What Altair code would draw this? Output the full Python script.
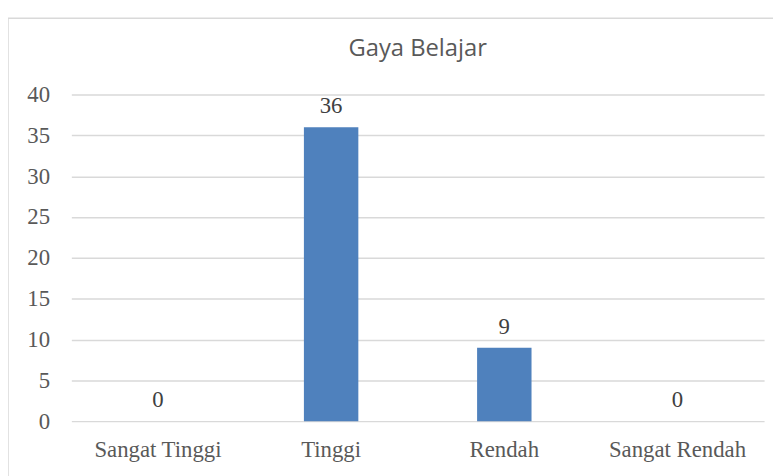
import altair as alt
import pandas as pd

categories = ["Sangat Tinggi", "Tinggi", "Rendah", "Sangat Rendah"]
values = [0, 36, 9, 0]

df = pd.DataFrame({"kategori": categories, "nilai": values})

x_enc = alt.X("kategori:N", sort=categories, title=None,
              scale=alt.Scale(paddingInner=0, paddingOuter=0),
              axis=alt.Axis(labelAngle=0, labelFont="Liberation Serif", labelFontSize=23,
                            labelColor="#595959", ticks=False, domain=False, labelPadding=18))
y_enc = alt.Y("nilai:Q", title=None,
              scale=alt.Scale(domain=[0, 40]),
              axis=alt.Axis(values=list(range(0, 41, 5)), labelFont="Liberation Serif",
                            labelFontSize=23, labelColor="#595959", ticks=False, domain=False,
                            gridColor="#d9d9d9", gridWidth=1.5, labelPadding=22))

base = alt.Chart(df)

border = base.mark_rect(fill=None, stroke="#d9d9d9", strokeWidth=1.5, clip=False).encode(
    x=alt.value(-64), x2=alt.value(720), y=alt.value(-77), y2=alt.value(400)
).transform_filter("datum.kategori == 'Tinggi'")

bars = base.mark_bar(color="#4f81bd", size=55).encode(x=x_enc, y=y_enc)

text = base.mark_text(baseline="bottom", dy=-9, font="Liberation Serif", fontSize=23,
                      color="#404040").encode(
    x=alt.X("kategori:N", sort=categories), y="nilai:Q", text="nilai:Q")

chart = alt.layer(border, bars, text).properties(
    width=700, height=330,
    title=alt.Title("Gaya Belajar", font="Open Sans", fontSize=24, fontWeight="normal",
                    color="#595959", anchor="middle", offset=-44),
    autosize=alt.AutoSizeParams(type="none"),
    padding={"left": 64, "top": 85, "right": 9, "bottom": 53},
).configure_view(stroke=None)

chart.save("out.html", embed_options={"renderer": "svg", "actions": False})
